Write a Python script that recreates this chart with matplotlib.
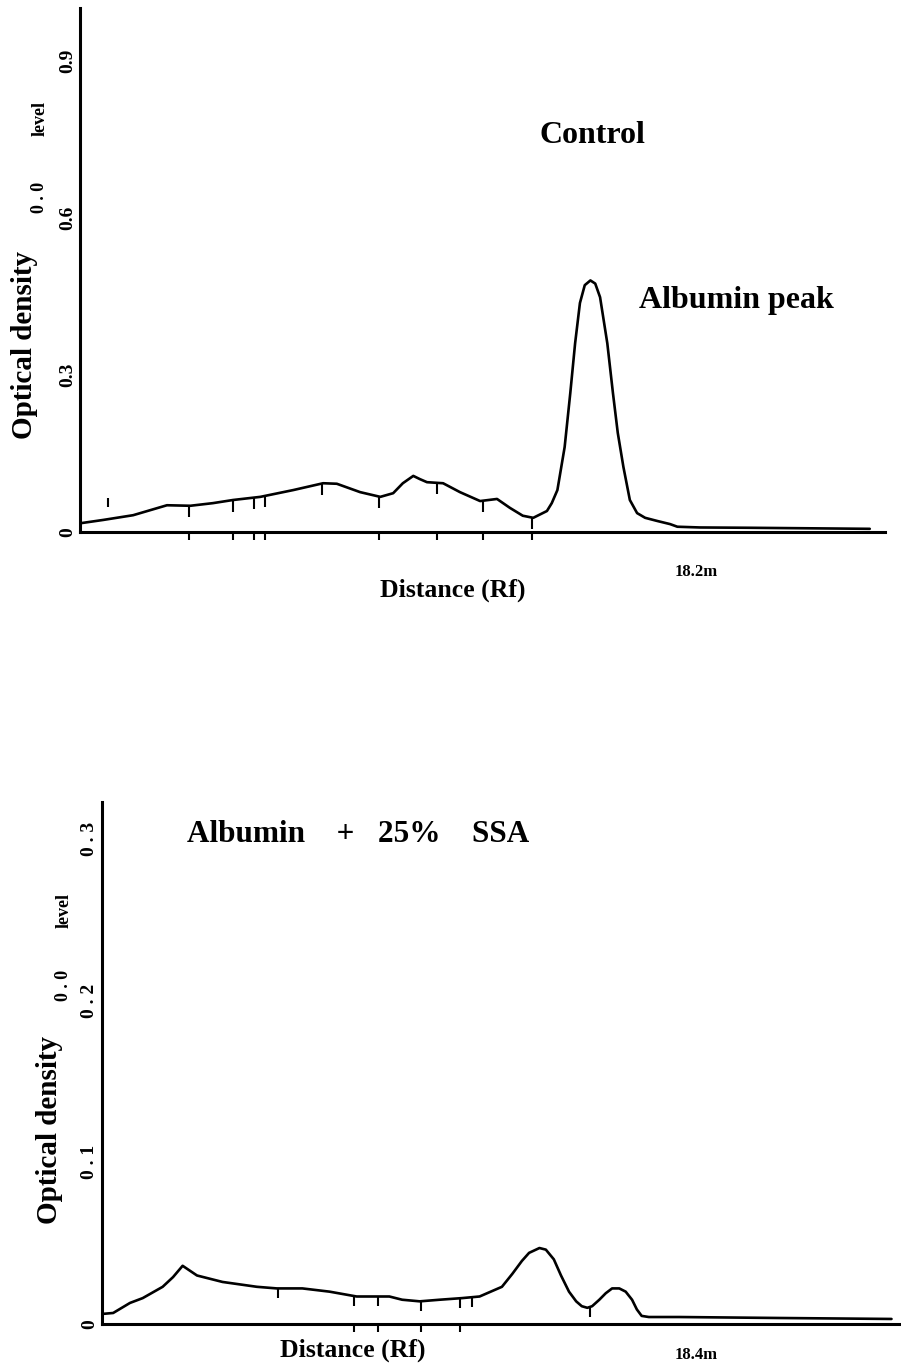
import numpy as np
import matplotlib
matplotlib.use("Agg")
import matplotlib.pyplot as plt

plt.rcParams["font.family"] = ["Liberation Serif", "DejaVu Serif"]
plt.rcParams["font.weight"] = "bold"

# control densitometer scan (distance in scan units 0-100, optical density)
control_x = [0.2, 2.9, 6.6, 10.8, 13.7, 16.5, 19.0, 22.4, 26.5, 30.2, 31.9, 34.8, 37.3, 38.9,
             40.1, 41.4, 42.2, 43.1, 45.1, 47.2, 49.7, 51.8, 53.4, 55.0, 56.3, 58.0, 58.6,
             59.3, 60.2, 60.9, 61.5, 62.1, 62.7, 63.4, 64.0, 64.6, 65.5, 66.2, 66.8, 67.5,
             68.3, 69.2, 70.2, 71.7, 73.3, 74.2, 77.0, 83.2, 98.1]
control_od = [0.017, 0.023, 0.032, 0.051, 0.050, 0.055, 0.061, 0.067, 0.080, 0.093, 0.092,
              0.076, 0.067, 0.074, 0.093, 0.107, 0.101, 0.095, 0.093, 0.076, 0.059, 0.063,
              0.046, 0.031, 0.027, 0.040, 0.055, 0.080, 0.162, 0.265, 0.360, 0.437, 0.471,
              0.480, 0.474, 0.448, 0.360, 0.265, 0.189, 0.124, 0.061, 0.036, 0.027, 0.021,
              0.015, 0.010, 0.0086, 0.008, 0.006]
control_marks = [13.5, 19.0, 21.6, 23.0, 30.1, 37.1, 44.3, 50.1, 56.1]
control_axis_ticks = [13.5, 19.0, 21.6, 23.0, 37.1, 44.3, 50.1, 56.1]

# albumin + 25% SSA scan
ssa_x = [0, 1.4, 3.5, 5.1, 7.6, 8.9, 10.1, 11.9, 15.1, 19.4, 21.9, 25.1, 28.5, 31.9, 36.0,
         37.6, 39.8, 42.3, 45.1, 47.3, 50.1, 51.4, 52.6, 53.5, 54.8, 55.6, 56.6, 57.5,
         58.5, 59.4, 60.1, 60.8, 61.4, 62.3, 63.1, 63.9, 64.8, 65.6, 66.4, 67.0, 67.6,
         68.5, 72.3, 84.8, 98.9]
ssa_od = [0.0062, 0.0068, 0.013, 0.016, 0.023, 0.029, 0.036, 0.030, 0.026, 0.023, 0.022,
          0.022, 0.020, 0.017, 0.017, 0.015, 0.014, 0.015, 0.016, 0.017, 0.023, 0.031,
          0.039, 0.044, 0.047, 0.046, 0.040, 0.030, 0.020, 0.014, 0.011, 0.010, 0.011,
          0.015, 0.019, 0.022, 0.022, 0.020, 0.015, 0.009, 0.005, 0.0043, 0.0043, 0.0037,
          0.0031]
ssa_marks = [22.0, 31.6, 34.6, 40.0, 44.9, 46.4, 61.1]
ssa_axis_ticks = [31.6, 34.6, 40.0, 44.9]

fig = plt.figure(figsize=(9.01, 13.70), dpi=100)


def setup_axes(ax, ylim, yticks, ylabels, axis_ticks):
    ax.set_xlim(0, 100)
    ax.set_ylim(*ylim)
    for s in ["top", "right"]:
        ax.spines[s].set_visible(False)
    for s in ["left", "bottom"]:
        ax.spines[s].set_linewidth(2.2)
    ax.set_xticks(axis_ticks)
    ax.set_xticklabels([])
    ax.tick_params(axis="x", direction="out", length=6, width=1.5)
    ax.set_yticks(yticks)
    ax.set_yticklabels(ylabels, rotation=90, va="center", fontsize=14)
    ax.tick_params(axis="y", length=0, pad=3)


def draw_scan(ax, x, od):
    ax.plot(x, od, color="black", lw=1.9, solid_joinstyle="round", solid_capstyle="round")


# top panel - control
ax1 = fig.add_axes([0.0888, 0.6117, 0.8935, 0.3825])
setup_axes(ax1, (0, 1.0), [0, 0.3, 0.6, 0.9], ["0", "0.3", "0.6", "0.9"], control_axis_ticks)
draw_scan(ax1, control_x, control_od)
mark_y = np.interp(control_marks, control_x, control_od)
ax1.vlines(control_marks, mark_y - 0.022, mark_y, color="black", lw=1.5)
ax1.vlines([3.5], 0.048, 0.065, color="black", lw=1.5)
ax1.text(63.6, 0.757, "Control", ha="center", va="center", fontsize=23)
ax1.text(81.5, 0.442, "Albumin peak", ha="center", va="center", fontsize=23)
ax1.text(76.6, -0.076, "18.2m", ha="center", va="center", fontsize=12, clip_on=False)
ax1.text(46.3, -0.111, "Distance (Rf)", ha="center", va="center", fontsize=18.5, clip_on=False)
fig.text(25 / 901, 1 - 345 / 1370, "Optical density", rotation=90, ha="center", va="center", fontsize=21)
fig.text(40 / 901, 1 - 197 / 1370, "0 . 0", rotation=90, ha="center", va="center", fontsize=13)
fig.text(40 / 901, 1 - 118 / 1370, "level", rotation=90, ha="center", va="center", fontsize=13)

# bottom panel - albumin + 25% SSA
ax2 = fig.add_axes([0.1132, 0.0336, 0.886, 0.381])
setup_axes(ax2, (0, 0.323), [0, 0.1, 0.2, 0.3], ["0", "0 . 1", "0 . 2", "0 . 3"], ssa_axis_ticks)
draw_scan(ax2, ssa_x, ssa_od)
mark_y = np.interp(ssa_marks, ssa_x, ssa_od)
ax2.vlines(ssa_marks, mark_y - 0.006, mark_y, color="black", lw=1.5)
ax2.text(10.6, 0.3027, "Albumin    +   25%    SSA", ha="left", va="center", fontsize=22.5)
ax2.text(31.4, -0.0161, "Distance (Rf)", ha="center", va="center", fontsize=18.5, clip_on=False)
ax2.text(74.4, -0.0192, "18.4m", ha="center", va="center", fontsize=12, clip_on=False)
fig.text(50 / 901, 1 - 1130 / 1370, "Optical density", rotation=90, ha="center", va="center", fontsize=21)
fig.text(64 / 901, 1 - 985 / 1370, "0 . 0", rotation=90, ha="center", va="center", fontsize=13)
fig.text(64 / 901, 1 - 910 / 1370, "level", rotation=90, ha="center", va="center", fontsize=13)

fig.savefig("out.png", dpi=100)
